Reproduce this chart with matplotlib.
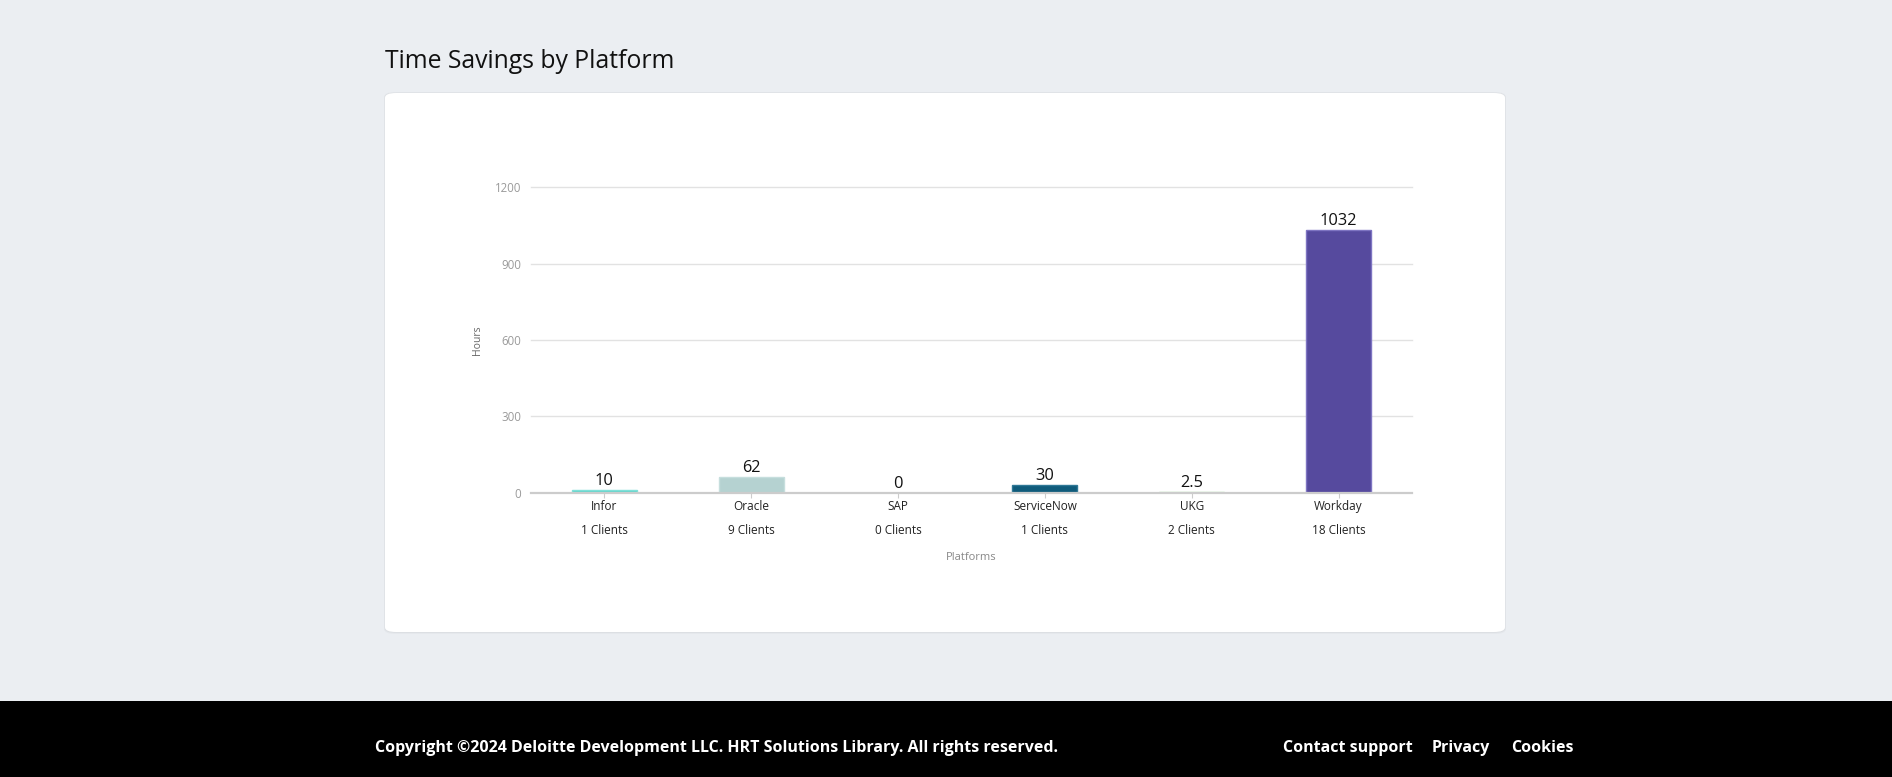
import matplotlib
matplotlib.use("Agg")
import matplotlib.pyplot as plt
from matplotlib.patches import FancyBboxPatch, Rectangle

platforms = ["Infor", "Oracle", "SAP", "ServiceNow", "UKG", "Workday"]
clients = [1, 9, 0, 1, 2, 18]
hours = [10, 62, 0, 30, 2.5, 1032]
value_labels = ["10", "62", "0", "30", "2.5", "1032"]
bar_colors = ["#5ED6CC", "#B5D2D1", "#9A9A9A", "#0F5B7B", "#9ED89B", "#564A9E"]
edge_colors = ["#7FE0D8", "#C6DEDD", "#BBBBBB", "#2F7896", "#A9DDA6", "#7E74C2"]
y_ticks = [0, 300, 600, 900, 1200]

W, H = 1892, 777
fig = plt.figure(figsize=(W / 100, H / 100), dpi=100)
fig.patch.set_facecolor("#EBEEF2")

FONT = ["Open Sans", "DejaVu Sans"]

def fx(px):
    return px / W

def fy(py):
    return 1 - py / H

# card shadow + card
for off, alpha in [(2, 0.025), (1, 0.035)]:
    sh = FancyBboxPatch((fx(385 - off * 0.5), fy(632 + off)), fx(1120 + off), (632 - 93 + off * 1.5) / H,
                        boxstyle="round,pad=0,rounding_size=0.006", transform=fig.transFigure,
                        facecolor="#000000", alpha=alpha, edgecolor="none", zorder=0)
    fig.patches.append(sh)
card = FancyBboxPatch((fx(385), fy(632)), fx(1120), (632 - 93) / H,
                      boxstyle="round,pad=0,rounding_size=0.006", transform=fig.transFigure,
                      facecolor="white", edgecolor="none", zorder=1)
fig.patches.append(card)

# footer
fig.patches.append(Rectangle((0, 0), 1, fy(701), transform=fig.transFigure,
                             facecolor="black", edgecolor="none", zorder=1))

# title
fig.text(fx(385), fy(61.5), "Time Savings by Platform", fontsize=17.8, family=FONT,
         color="#111111", ha="left", va="center")

# footer texts
fig.text(fx(375), fy(748.5), "Copyright \u00a92024 Deloitte Development LLC. HRT Solutions Library. All rights reserved.",
         fontsize=11.5, family=FONT, fontweight="bold", color="white", ha="left", va="center")
for x0, t in [(1283, "Contact support"), (1432, "Privacy"), (1511, "Cookies")]:
    fig.text(fx(x0), fy(748.5), t, fontsize=11.5, family=FONT, fontweight="bold",
             color="white", ha="left", va="center")

# axes
left, right, top, bottom = 531, 1412, 187.5, 492.5
ax = fig.add_axes([fx(left), fy(bottom), fx(right - left), (bottom - top) / H])
ax.set_facecolor("none")
ax.set_zorder(2)

x = list(range(len(platforms)))
ax.bar(x, hours, width=0.443, color=bar_colors, edgecolor=edge_colors, linewidth=1.0, zorder=3)

ax.set_xlim(-0.5, len(platforms) - 0.5)
ax.set_ylim(0, 1200)
ax.set_yticks(y_ticks)
ax.set_yticklabels([str(t) for t in y_ticks], fontsize=8.3, family=FONT, color="#9A9A9A")
ax.tick_params(axis="y", length=0, pad=7)
for t in y_ticks[1:]:
    ax.axhline(t, color="#E2E2E2", linewidth=1.0, zorder=0, clip_on=False)

for s in ["top", "right", "left"]:
    ax.spines[s].set_visible(False)
ax.spines["bottom"].set_color("#CCCCCC")
ax.spines["bottom"].set_linewidth(1.6)
ax.spines["bottom"].set_zorder(4)

ax.set_xticks(x)
ax.set_xticklabels(platforms, fontsize=8.5, family=FONT, color="#222222")
ax.tick_params(axis="x", length=3.5, width=0.8, color="#CCCCCC", pad=2)

for i, c in enumerate(clients):
    ax.annotate(f"{c} Clients", xy=(i, 0), xycoords=("data", "axes fraction"),
                xytext=(0, -27.5), textcoords="offset points", ha="center", va="center",
                fontsize=8.5, family=FONT, color="#222222")

for i, (v, lab) in enumerate(zip(hours, value_labels)):
    ax.annotate(lab, xy=(i, v), xytext=(0, 3.5), textcoords="offset points",
                ha="center", va="baseline", fontsize=11.8, family=FONT, color="#111111")

ax.set_xlabel("Platforms", fontsize=8, family=FONT, color="#888888")
ax.xaxis.set_label_coords(0.5, -(557 - bottom) / (bottom - top), transform=ax.transAxes)
ax.xaxis.label.set_va("center")
ax.set_ylabel("Hours", fontsize=7.5, family=FONT, color="#666666")
ax.yaxis.set_label_coords(-(left - 477) / (right - left), 0.5 - (340 - (top + bottom) / 2) / (bottom - top))
ax.yaxis.label.set_va("center")

fig.savefig("out.png", dpi=100, facecolor=fig.get_facecolor())
